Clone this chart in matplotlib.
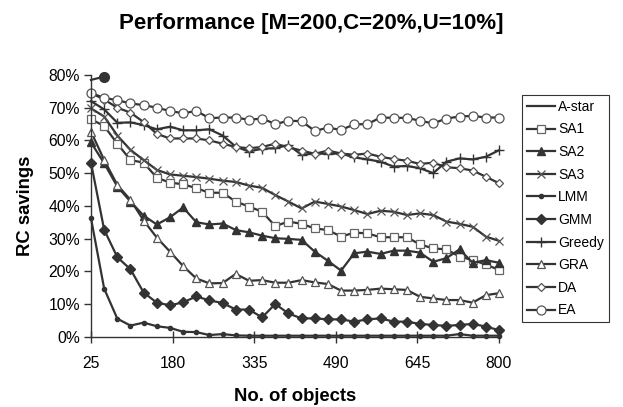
import matplotlib
matplotlib.use("Agg")
import matplotlib.pyplot as plt
from matplotlib.ticker import FuncFormatter

plt.rcParams["font.family"] = ["Liberation Sans", "DejaVu Sans"]

# number of objects (x)
n_objects = [25, 50, 75, 100, 125, 150, 175, 200, 225, 250, 275, 300, 325, 350, 375, 400,
             425, 450, 475, 500, 525, 550, 575, 600, 625, 650, 675, 700, 725, 750, 775, 800]

# RC savings (%) per algorithm
astar = [78.5, 79.5]
sa1 = [66.5, 64.4, 59.0, 54.0, 53.2, 48.6, 47.1, 46.6, 45.4, 44.0, 44.0, 41.3, 39.8, 38.2, 33.8, 35.2,
       34.5, 33.1, 32.6, 30.6, 31.8, 31.6, 30.4, 30.4, 30.4, 28.2, 27.0, 26.7, 24.5, 23.4, 22.1, 20.4]
sa2 = [59.4, 53.0, 45.9, 41.3, 37.0, 34.3, 36.5, 39.5, 35.0, 34.3, 34.6, 32.6, 31.9, 30.9, 30.1, 29.9,
       29.6, 26.0, 23.2, 20.2, 25.5, 26.0, 25.3, 26.3, 26.3, 25.7, 22.9, 24.0, 26.7, 22.6, 23.4, 22.6]
sa3 = [69.8, 67.3, 61.5, 57.1, 54.0, 51.0, 49.6, 49.2, 48.8, 48.3, 47.7, 47.3, 46.2, 45.5, 43.3, 41.3,
       39.2, 41.3, 40.6, 39.8, 38.7, 37.5, 38.5, 38.2, 37.2, 37.7, 37.2, 35.2, 34.5, 33.6, 30.6, 29.3]
lmm = [36.2, 14.7, 5.5, 3.4, 4.3, 3.2, 2.7, 1.5, 1.4, 0.5, 0.8, 0.4, 0.3, 0.3, 0.3, 0.3,
       0.3, 0.3, 0.3, 0.3, 0.3, 0.3, 0.3, 0.3, 0.3, 0.3, 0.3, 0.3, 0.8, 0.3, 0.3, 0.3]
gmm = [53.2, 32.7, 24.3, 20.6, 13.5, 10.4, 9.6, 10.5, 12.3, 11.1, 10.3, 8.3, 8.3, 5.9, 10.0, 7.1,
       5.6, 5.6, 5.3, 5.3, 4.6, 5.3, 5.6, 4.6, 4.6, 3.9, 3.6, 3.3, 3.6, 3.9, 3.1, 2.0]
greedy = [72.0, 69.5, 65.4, 65.5, 64.7, 63.4, 64.2, 63.1, 63.1, 63.4, 61.5, 58.1, 56.6, 57.5, 57.6, 58.6,
          55.6, 56.0, 55.9, 56.0, 54.8, 54.2, 53.5, 52.0, 52.2, 51.5, 50.0, 53.5, 54.5, 54.2, 55.0, 57.0]
gra = [62.7, 54.0, 46.4, 41.8, 35.5, 30.3, 26.0, 21.6, 17.8, 16.3, 16.4, 19.2, 17.1, 17.3, 16.5, 16.5,
       17.3, 16.6, 16.1, 14.1, 14.1, 14.3, 14.7, 14.5, 14.3, 12.2, 11.7, 11.2, 11.2, 10.4, 12.7, 13.3]
da = [74.5, 72.5, 70.0, 68.5, 65.6, 62.0, 60.6, 60.6, 60.6, 60.0, 59.0, 58.0, 57.6, 58.0, 59.0, 57.9,
      56.9, 55.9, 56.9, 56.0, 55.6, 56.0, 55.0, 54.3, 53.8, 52.8, 53.2, 51.8, 51.5, 50.8, 48.9, 46.9]
ea = [74.5, 73.0, 72.3, 71.3, 70.8, 70.0, 69.0, 68.3, 69.0, 66.8, 67.0, 67.0, 66.3, 66.7, 65.0, 66.0,
      65.9, 62.9, 63.9, 63.2, 64.9, 65.0, 67.0, 66.9, 66.9, 66.0, 65.2, 66.7, 67.3, 67.5, 67.0, 67.0]

x_ticks = [25, 180, 335, 490, 645, 800]

LINE = "#333333"
EDGE = "#555555"

fig = plt.figure(figsize=(6.23, 4.07), dpi=100)
ax = fig.add_axes([91 / 623, 1 - 336.7 / 407, 408 / 623, 261.7 / 407])

common = dict(color=LINE, linewidth=1.6, clip_on=False)
ax.plot(n_objects[:2], astar, label="A-star", **common)
ax.plot(n_objects[1], astar[1], "o", color=LINE, markersize=7, clip_on=False, label="_nolegend_")
ax.plot(n_objects, sa1, marker="s", markersize=5.5, markerfacecolor="white", markeredgecolor="#666666",
        markeredgewidth=0.9, label="SA1", **common)
ax.plot(n_objects, sa2, marker="^", markersize=6, markerfacecolor=LINE, markeredgecolor=LINE,
        label="SA2", **common)
ax.plot(n_objects, sa3, marker="x", markersize=6, markeredgecolor=EDGE, markeredgewidth=0.9,
        label="SA3", **common)
ax.plot(n_objects, lmm, marker="o", markersize=3, markerfacecolor=LINE, markeredgecolor=LINE,
        label="LMM", **common)
ax.plot(n_objects, gmm, marker="D", markersize=5, markerfacecolor=LINE, markeredgecolor=LINE,
        label="GMM", **common)
ax.plot(n_objects, greedy, marker="+", markersize=7, markeredgecolor=LINE, markeredgewidth=1.0,
        label="Greedy", **common)
ax.plot(n_objects, gra, marker="^", markersize=6, markerfacecolor="white", markeredgecolor=EDGE,
        markeredgewidth=0.9, label="GRA", **common)
ax.plot(n_objects, da, marker="D", markersize=4.5, markerfacecolor="white", markeredgecolor=EDGE,
        markeredgewidth=0.9, label="DA", **common)
ax.plot(n_objects, ea, marker="o", markersize=6.5, markerfacecolor="white", markeredgecolor=EDGE,
        markeredgewidth=0.9, label="EA", **common)

ax.set_xlim(25, 800)
ax.set_ylim(0, 80)
ax.set_xticks(x_ticks)
ax.set_yticks(range(0, 81, 10))
ax.yaxis.set_major_formatter(FuncFormatter(lambda v, p: f"{v:.0f}%"))
for s in ["top", "right"]:
    ax.spines[s].set_visible(False)
for s in ["left", "bottom"]:
    ax.spines[s].set_color("#333333")
    ax.spines[s].set_linewidth(1.0)
ax.tick_params(axis="x", direction="inout", length=8, width=1.0, color="#333333",
               labelsize=11.3, pad=10)
ax.tick_params(axis="y", direction="out", length=5, width=1.0, color="#333333",
               labelsize=11.3, pad=3)

ax.set_xlabel("No. of objects", fontsize=13.3, fontweight="bold", labelpad=12)
ax.set_ylabel("RC savings", fontsize=13.3, fontweight="bold", labelpad=10)
fig.text(0.5, 1 - 23 / 407, "Performance [M=200,C=20%,U=10%]", ha="center", va="center",
         fontsize=16, fontweight="bold")

leg = ax.legend(loc="upper left", bbox_to_anchor=(522 / 623, 1 - 95 / 407),
                bbox_transform=fig.transFigure, fontsize=10, frameon=True, fancybox=False,
                handlelength=2.0, handletextpad=0.25, labelspacing=0.62, borderpad=0.35,
                borderaxespad=0)
leg.get_frame().set_edgecolor("black")
leg.get_frame().set_linewidth(0.8)

plt.savefig("out.png", dpi=100)
